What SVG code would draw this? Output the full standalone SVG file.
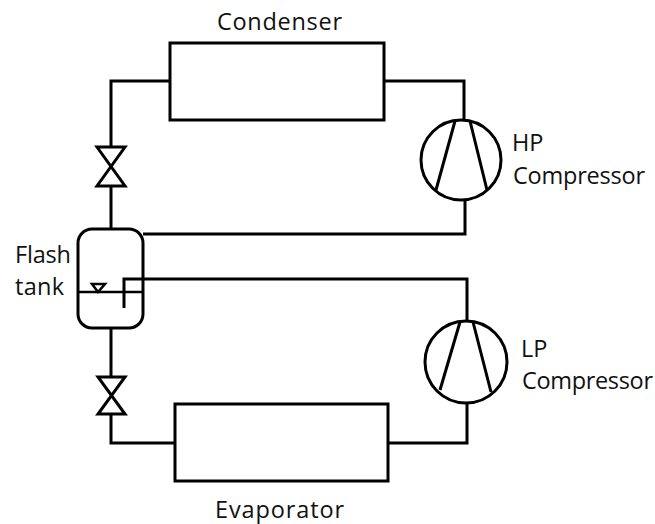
<svg xmlns="http://www.w3.org/2000/svg" width="655" height="524" viewBox="0 0 655 524">
<style>
.s{fill:none;stroke:#000;stroke-width:3}
.t{stroke-width:2.5}
text{font-family:"Open Sans","Liberation Sans",sans-serif;font-size:23.5px;fill:#111}
</style>
<rect width="655" height="524" fill="#fff"/>
<g id="connectors">
<path class="s" d="M170 81H111V147"/>
<path class="s" d="M111 186V229"/>
<path class="s" d="M384 81H464V120"/>
<path class="s" d="M465 200V234H143"/>
<path class="s" d="M124 308V279H467V322"/>
<path class="s" d="M111 328V377"/>
<path class="s" d="M111 414V443H175"/>
<path class="s" d="M388 443H467V402"/>
</g>
<g id="condenser"><rect class="s" x="170" y="43" width="214" height="77"/><text x="217" y="30" textLength="125">Condenser</text></g>
<g id="evaporator"><rect class="s" x="175" y="404" width="213" height="77"/><text x="215" y="518" textLength="129">Evaporator</text></g>
<g id="hp-compressor"><circle class="s" cx="461" cy="160" r="40"/><path class="s" d="M455 121L436 190M470 121L487 190"/><text x="512" y="151">HP</text><text x="513" y="184" textLength="132">Compressor</text></g>
<g id="lp-compressor"><circle class="s" cx="466" cy="362" r="41"/><path class="s" d="M460 322L440 390M473 322L491 392"/><text x="521" y="357">LP</text><text x="522" y="389" textLength="131">Compressor</text></g>
<g id="flash-tank"><rect class="s" x="78" y="229" width="65" height="99" rx="14"/><path class="s t" d="M78 292H143"/><path class="s t" d="M92 284H105L98 292Z"/><text x="15" y="263" textLength="56">Flash</text><text x="15" y="295" textLength="49">tank</text></g>
<g id="valve-top"><path class="s" d="M97 147H125L97 186H125Z"/></g>
<g id="valve-bottom"><path class="s" d="M98 377H125L98 414H125Z"/></g>
</svg>
